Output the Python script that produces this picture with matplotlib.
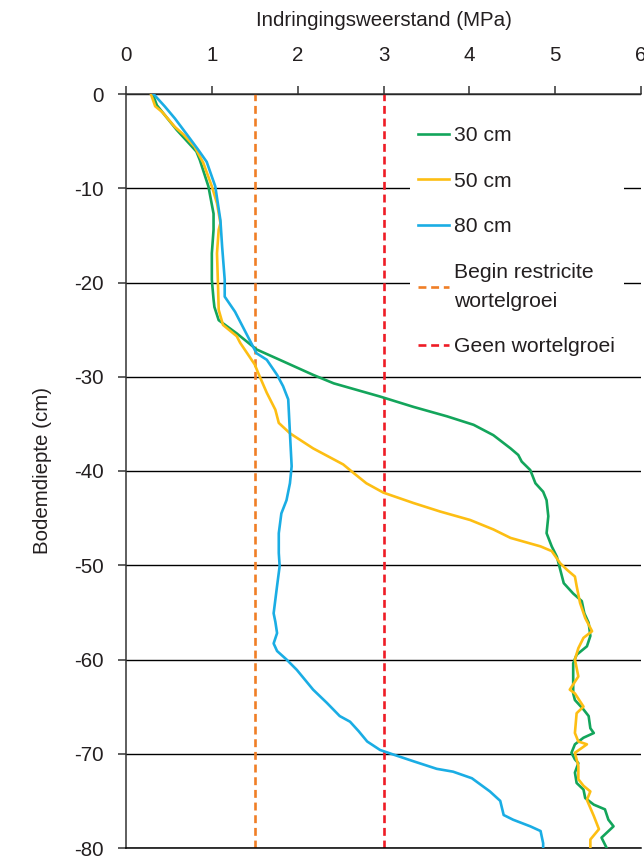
import matplotlib
matplotlib.use('Agg')
import matplotlib.pyplot as plt

plt.rcParams['font.family'] = ['Liberation Sans', 'DejaVu Sans']
plt.rcParams['axes.unicode_minus'] = False

# 30 cm
diepte_30 = [0, -1.2, -3.8, -6.1, -7, -9.8, -12.7, -14.4, -16.9, -19.7, -21.8, -22.6, -24.0, -25.4,
             -27.1, -28.2, -29.8, -30.7, -32.1, -33.2, -34.2, -35.1, -36.2, -37.6, -38.3, -39.0,
             -39.9, -41.3, -42.2, -43.1, -44.8, -46.6, -48.0, -49.1, -50.5, -51.9, -53.0, -53.8,
             -55.1, -56.1, -57.5, -58.6, -59.5, -60.4, -61.8, -63.6, -64.3, -65.3, -66.0, -67.3,
             -67.8, -68.3, -69.0, -69.9, -70.6, -71.0, -72.0, -73.1, -73.8, -74.7, -75.4, -75.9,
             -77.0, -77.7, -78.9, -80]
mpa_30 = [0.31, 0.36, 0.59, 0.82, 0.86, 0.96, 1.02, 1.02, 1.00, 1.00, 1.02, 1.03, 1.08, 1.29,
          1.52, 1.79, 2.18, 2.42, 2.96, 3.35, 3.74, 4.05, 4.28, 4.48, 4.57, 4.61,
          4.71, 4.77, 4.86, 4.90, 4.92, 4.90, 4.96, 5.02, 5.06, 5.10, 5.21, 5.31,
          5.34, 5.39, 5.41, 5.37, 5.25, 5.21, 5.21, 5.21, 5.23, 5.33, 5.39, 5.41,
          5.45, 5.33, 5.23, 5.19, 5.23, 5.27, 5.23, 5.25, 5.33, 5.35, 5.45, 5.58,
          5.62, 5.68, 5.54, 5.60]

# 50 cm
diepte_50 = [0, -1.3, -1.9, -3.5, -4.3, -5.6, -7.3, -9.8, -11.6, -13.7, -14.4, -16.9, -19.7, -22.9,
             -24.5, -25.7, -26.4, -28.7, -29.6, -31.7, -33.5, -34.9, -36.0, -37.6, -39.3, -40.2,
             -41.3, -42.3, -43.4, -44.3, -45.2, -46.2, -47.1, -48.0, -48.5, -49.8, -50.5, -51.2,
             -52.2, -54.0, -55.6, -57.0, -57.7, -58.8, -60.0, -61.8, -63.2, -63.6, -65.0, -65.7,
             -67.8, -68.7, -69.0, -69.9, -71.3, -72.7, -73.4, -74.0, -74.9, -76.6, -78.0, -79.1, -80]
mpa_50 = [0.29, 0.34, 0.42, 0.57, 0.67, 0.80, 0.90, 1.00, 1.06, 1.10, 1.08, 1.06, 1.07, 1.08,
          1.13, 1.29, 1.33, 1.50, 1.54, 1.64, 1.74, 1.78, 1.91, 2.18, 2.53, 2.65,
          2.80, 3.00, 3.35, 3.66, 4.01, 4.28, 4.48, 4.83, 4.96, 5.06, 5.14, 5.23,
          5.25, 5.29, 5.35, 5.43, 5.33, 5.27, 5.23, 5.27, 5.17, 5.23, 5.33, 5.25,
          5.23, 5.27, 5.37, 5.23, 5.27, 5.27, 5.33, 5.41, 5.37, 5.45, 5.51, 5.41, 5.41]

# 80 cm
diepte_80 = [0, -1.3, -2.6, -4.3, -5.9, -7.2, -9.8, -13.4, -16.2, -19.7, -21.5, -23.1, -26.8,
             -27.5, -28.2, -29.8, -31.0, -32.4, -36.0, -39.5, -41.3, -43.1, -44.5, -46.6, -48.7,
             -50.1, -52.2, -55.1, -56.0, -57.2, -58.3, -59.1, -60.0, -61.1, -63.2, -64.6, -66.0,
             -66.6, -67.6, -68.7, -69.6, -70.1, -70.8, -71.6, -71.9, -72.6, -74.0, -75.0, -76.5,
             -77.0, -77.7, -78.2, -79.5, -80]
mpa_80 = [0.32, 0.45, 0.57, 0.71, 0.84, 0.94, 1.04, 1.10, 1.12, 1.15, 1.15, 1.27, 1.48,
          1.52, 1.64, 1.76, 1.83, 1.89, 1.91, 1.93, 1.91, 1.87, 1.81, 1.78, 1.78,
          1.79, 1.76, 1.72, 1.74, 1.76, 1.72, 1.76, 1.87, 1.99, 2.18, 2.34, 2.49,
          2.61, 2.71, 2.81, 2.96, 3.12, 3.35, 3.62, 3.81, 4.03, 4.24, 4.36, 4.40,
          4.51, 4.71, 4.83, 4.86, 4.86]

grens_restrictie = 1.5
grens_geen = 3.0

tekst = '#231f20'

fig = plt.figure(figsize=(6.44, 8.6), dpi=100)
ax = fig.add_axes([126 / 644, 12 / 860, 515 / 644, 754 / 860])

ax.plot(mpa_30, diepte_30, color='#13a55b', lw=1.9, label='30 cm', zorder=3)
ax.plot(mpa_50, diepte_50, color='#fdbe13', lw=1.9, label='50 cm', zorder=3)
ax.plot(mpa_80, diepte_80, color='#1aade4', lw=1.9, label='80 cm', zorder=3)
ax.axvline(grens_restrictie, color='#f07e26', lw=1.9, ls=(0, (3, 1.8)),
           label='Begin restricite\nwortelgroei', zorder=2)
ax.axvline(grens_geen, color='#ee1c25', lw=1.9, ls=(0, (3, 1.8)),
           label='Geen wortelgroei', zorder=2)

ax.set_xlim(0, 6)
ax.set_ylim(-80, 0)
ax.set_xticks(range(0, 7))
ax.set_yticks(range(-80, 1, 10))

ax.xaxis.tick_top()
ax.xaxis.set_label_position('top')
ax.tick_params(axis='x', direction='out', length=6, width=1.1, color='#333333',
               pad=15, labelsize=14.8, labelcolor=tekst)
ax.tick_params(axis='y', direction='out', length=6, width=1.1, color='#333333',
               pad=10, labelsize=14.8, labelcolor=tekst)
ax.set_xlabel('Indringingsweerstand (MPa)', fontsize=14.8, color=tekst, labelpad=14)
ax.set_ylabel('Bodemdiepte (cm)', fontsize=14.8, color=tekst, labelpad=16)

ax.spines['right'].set_visible(False)
ax.spines['top'].set_color('#333333')
ax.spines['left'].set_color('#333333')
ax.spines['bottom'].set_color('black')
for kant in ['top', 'left', 'bottom']:
    ax.spines[kant].set_linewidth(1.1)

ax.yaxis.grid(True, color='black', lw=1.0)
ax.set_axisbelow(True)

leg = ax.legend(loc='upper left', bbox_to_anchor=(410 / 644, 1 - 118 / 860),
                bbox_transform=fig.transFigure, borderaxespad=0, frameon=True,
                fontsize=15.2, handlelength=1.45, handletextpad=0.25,
                labelspacing=1.25, borderpad=0.4, fancybox=False)
leg.get_frame().set_facecolor('white')
leg.get_frame().set_edgecolor('none')
leg.get_frame().set_alpha(1)
for t in leg.get_texts():
    t.set_color(tekst)
    t.set_linespacing(1.7)

fig.savefig('out.png', dpi=100)
